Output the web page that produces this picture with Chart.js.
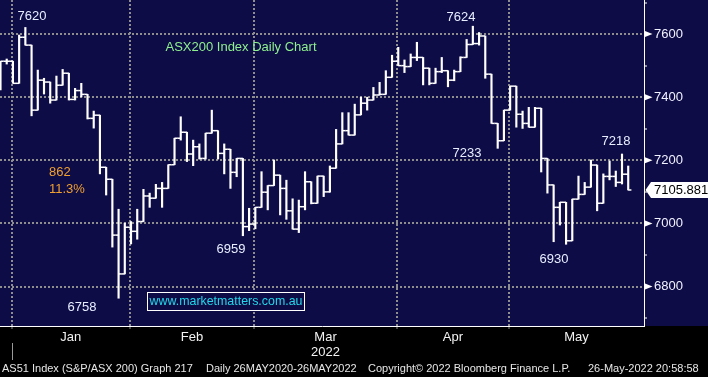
<!DOCTYPE html>
<html>
<head>
<meta charset="utf-8">
<script src="https://cdn.jsdelivr.net/npm/chart.js@4.4.1/dist/chart.umd.min.js"></script>
<style>
  html, body { margin: 0; padding: 0; background: #000; }
</style>
</head>
<body>
<canvas id="asx_chart" width="708" height="377"></canvas>
<script>
// ASX200 daily bars, 30 Dec 2021 .. 26 May 2022 (bar index = trading day)
let opens = [
  7430, 7514, 7514, 7444, 7590, 7565, 7359, 7454, 7448, 7391,
  7438, 7476, 7393, 7421, 7409, 7333, 7343, 7178, 7140, 6963,
  6840, 6988, 6975, 7006, 7087, 7080, 7111, 7111, 7186, 7270,
  7289, 7220, 7243, 7206, 7286, 7294, 7222, 7235, 7162, 7206,
  6990, 6998, 7051, 7099, 7120, 7153, 7111, 7040, 6982, 7053,
  7132, 7064, 7150, 7100, 7175, 7252, 7294, 7280, 7344, 7381,
  7391, 7407, 7409, 7463, 7514, 7500, 7497, 7526, 7526, 7492,
  7444, 7481, 7484, 7454, 7481, 7526, 7567, 7570, 7594, 7473,
  7317, 7262, 7359, 7435, 7346, 7317, 7305, 7365, 7206, 7122,
  7051, 7067, 6945, 7077, 7092, 7115, 7185, 7064, 7149, 7149,
  7130, 7156
];
let highs = [
  7514, 7521, 7514, 7597, 7621, 7565, 7486, 7460, 7448, 7467,
  7488, 7476, 7428, 7444, 7409, 7356, 7343, 7178, 7140, 7045,
  7001, 7006, 7045, 7108, 7096, 7124, 7130, 7186, 7270, 7338,
  7289, 7264, 7252, 7286, 7359, 7294, 7252, 7235, 7206, 7206,
  7048, 7051, 7164, 7120, 7201, 7153, 7137, 7078, 7074, 7164,
  7132, 7150, 7150, 7182, 7298, 7351, 7351, 7378, 7400, 7400,
  7431, 7447, 7484, 7533, 7558, 7518, 7537, 7574, 7526, 7492,
  7492, 7526, 7484, 7486, 7528, 7583, 7625, 7605, 7594, 7473,
  7317, 7359, 7435, 7435, 7356, 7368, 7368, 7365, 7206, 7122,
  7067, 7067, 7077, 7150, 7130, 7201, 7185, 7157, 7198, 7166,
  7220, 7182
];
let lows = [
  7423, 7505, 7444, 7444, 7565, 7341, 7359, 7410, 7381, 7391,
  7438, 7391, 7391, 7401, 7331, 7302, 7157, 7090, 6925, 6763,
  6840, 6935, 6950, 7006, 7051, 7080, 7051, 7111, 7186, 7264,
  7196, 7183, 7204, 7204, 7286, 7204, 7157, 7111, 7148, 6961,
  6977, 6983, 7051, 7043, 7120, 7027, 7013, 6982, 6971, 7043,
  7062, 7064, 7085, 7099, 7175, 7252, 7280, 7280, 7344, 7359,
  7391, 7407, 7409, 7463, 7500, 7478, 7497, 7516, 7439, 7439,
  7444, 7478, 7433, 7452, 7481, 7526, 7567, 7565, 7460, 7317,
  7238, 7262, 7359, 7305, 7301, 7305, 7305, 7163, 7096, 6942,
  6995, 6934, 6945, 7077, 7092, 7115, 7040, 7064, 7138, 7117,
  7125, 7106
];
let closes = [
  7514, 7514, 7444, 7590, 7565, 7359, 7454, 7448, 7391, 7438,
  7476, 7393, 7421, 7409, 7333, 7343, 7178, 7140, 6963, 6840,
  6988, 6975, 7006, 7087, 7080, 7111, 7111, 7186, 7270, 7289,
  7220, 7243, 7206, 7286, 7294, 7222, 7235, 7162, 7206, 6990,
  6998, 7051, 7099, 7120, 7153, 7111, 7040, 6982, 7053, 7132,
  7064, 7150, 7100, 7175, 7252, 7294, 7280, 7344, 7381, 7391,
  7407, 7409, 7463, 7514, 7500, 7497, 7526, 7526, 7492, 7444,
  7481, 7484, 7454, 7481, 7526, 7567, 7570, 7594, 7473, 7317,
  7262, 7359, 7435, 7346, 7317, 7305, 7365, 7206, 7122, 7051,
  7067, 6945, 7077, 7092, 7115, 7185, 7064, 7149, 7149, 7130,
  7156, 7106
];

let monthLabels = ['Jan', 'Feb', ['Mar', '2022'], 'Apr', 'May'];
let monthStart = [2, 21, 41, 64, 82];   // index of first bar of each month
let yTickValues = [6700, 6800, 6900, 7000, 7100, 7200, 7300, 7400, 7500, 7600, 7700];
let lastPrice = 7105.881;

let xMin = -0.08, xMax = 103.54;
let navy = '#0e0c46';
let dotGrey = '#8e8e8e';
let fontFamily = "'Liberation Sans', Arial, sans-serif";

// gridline ticks at month starts, label ticks halfway between them
let xTicks = [];
monthStart.forEach(function(s, k) {
    let a = s - 0.2;
    let b = k < monthStart.length - 1 ? monthStart[k + 1] - 0.2 : xMax;
    xTicks.push(a, (a + b) / 2);
});

let notes = [
    {text: '7620', x: 32, y: 16, color: '#e8eeff', align: 'center'},
    {text: 'ASX200 Index Daily Chart', x: 241, y: 47, color: '#8ef08e', align: 'center'},
    {text: '862', x: 49, y: 172, color: '#f0a030', align: 'left'},
    {text: '11.3%', x: 49, y: 189, color: '#f0a030', align: 'left'},
    {text: '6758', x: 82, y: 307, color: '#e8eeff', align: 'center'},
    {text: '6959', x: 231, y: 249, color: '#e8eeff', align: 'center'},
    {text: '7624', x: 461, y: 17, color: '#e8eeff', align: 'center'},
    {text: '7233', x: 467, y: 153, color: '#e8eeff', align: 'center'},
    {text: '6930', x: 554, y: 259, color: '#e8eeff', align: 'center'},
    {text: '7218', x: 616, y: 141, color: '#e8eeff', align: 'center'}
];

let footer = [
    {text: 'AS51 Index (S&P/ASX 200) Graph 217', x: 2},
    {text: 'Daily 26MAY2020-26MAY2022', x: 206},
    {text: 'Copyright\u00a9 2022 Bloomberg Finance L.P.', x: 368},
    {text: '26-May-2022 20:58:58', x: 588}
];

function noPadding(scale) {
    scale.paddingLeft = 0;
    scale.paddingRight = 0;
    scale.paddingTop = 0;
    scale.paddingBottom = 0;
}

let bbgPlugin = {
    id: 'bbg',
    beforeDraw: function(chart) {
        let ctx = chart.ctx;
        ctx.save();
        ctx.fillStyle = '#000';
        ctx.fillRect(0, 0, chart.width, chart.height);
        ctx.fillStyle = navy;
        ctx.fillRect(0, 0, chart.width, chart.chartArea.bottom);
        ctx.restore();
    },
    afterDatasetsDraw: function(chart) {
        let ctx = chart.ctx;
        ctx.save();
        ctx.font = '13px ' + fontFamily;
        ctx.textBaseline = 'middle';
        notes.forEach(function(n) {
            ctx.fillStyle = n.color;
            ctx.textAlign = n.align;
            ctx.fillText(n.text, n.x, n.y);
        });
        // web address box
        ctx.strokeStyle = '#ffffff';
        ctx.lineWidth = 1;
        ctx.fillStyle = navy;
        ctx.fillRect(147.5, 292.5, 157, 18);
        ctx.strokeRect(147.5, 292.5, 157, 18);
        ctx.fillStyle = '#22d8ea';
        ctx.textAlign = 'center';
        ctx.font = '12.4px ' + fontFamily;
        ctx.fillText('www.marketmatters.com.au', 226, 302);
        ctx.restore();
    },
    afterDraw: function(chart) {
        let ctx = chart.ctx;
        let ys = chart.scales.y;
        let xs = chart.scales.x;
        let right = chart.chartArea.right;
        ctx.save();
        // arrow ticks at labelled levels
        ctx.fillStyle = '#ffffff';
        yTickValues.forEach(function(v) {
            if (v % 200 !== 0) return;
            let py = ys.getPixelForValue(v);
            ctx.beginPath();
            ctx.moveTo(right + 1, py - 3);
            ctx.lineTo(right + 8.5, py);
            ctx.lineTo(right + 1, py + 3);
            ctx.closePath();
            ctx.fill();
        });
        // last price tag
        let py = ys.getPixelForValue(lastPrice);
        ctx.beginPath();
        ctx.moveTo(right + 1.5, py);
        ctx.lineTo(right + 7, py - 8);
        ctx.lineTo(chart.width, py - 8);
        ctx.lineTo(chart.width, py + 8);
        ctx.lineTo(right + 7, py + 8);
        ctx.closePath();
        ctx.fillStyle = '#ffffff';
        ctx.fill();
        ctx.fillStyle = '#000000';
        ctx.font = '13px ' + fontFamily;
        ctx.textAlign = 'left';
        ctx.textBaseline = 'middle';
        ctx.fillText(lastPrice.toFixed(3), right + 10, py + 0.5);
        // year separator
        let px = Math.round(xs.getPixelForValue(monthStart[0] - 0.2)) + 0.5;
        ctx.strokeStyle = '#9a9a9a';
        ctx.lineWidth = 1;
        ctx.beginPath();
        ctx.moveTo(px, 343);
        ctx.lineTo(px, 360);
        ctx.stroke();
        // footer line
        ctx.fillStyle = '#e6e6e6';
        ctx.font = '11px ' + fontFamily;
        footer.forEach(function(f) {
            ctx.fillText(f.text, f.x, 369);
        });
        ctx.restore();
    }
};

let asxChart = new Chart(document.getElementById('asx_chart'), {
    type: 'bar',
    data: {
        datasets: [
            {
                type: 'bar',
                label: 'High-Low',
                data: highs.map(function(h, i) { return {x: i, y: [lows[i], h]}; }),
                backgroundColor: '#ffffff',
                borderWidth: 0,
                barThickness: 1.5
            },
            {
                type: 'scatter',
                label: 'Open',
                data: opens.map(function(o, i) { return {x: i, y: o}; }),
                pointStyle: 'dash',
                pointRotation: 180,
                pointRadius: 3.2,
                pointBorderColor: '#ffffff',
                pointBorderWidth: 1.5
            },
            {
                type: 'scatter',
                label: 'Close',
                data: closes.map(function(c, i) { return {x: i, y: c}; }),
                pointStyle: 'dash',
                pointRotation: 0,
                pointRadius: 3.2,
                pointBorderColor: '#ffffff',
                pointBorderWidth: 1.5
            }
        ]
    },
    options: {
        responsive: false,
        devicePixelRatio: 1,
        animation: false,
        events: [],
        layout: {padding: 0, autoPadding: false},
        plugins: {
            legend: {display: false},
            tooltip: {enabled: false}
        },
        scales: {
            x: {
                type: 'linear',
                min: xMin,
                max: xMax,
                offset: false,
                afterBuildTicks: function(scale) {
                    scale.ticks = xTicks.map(function(v) { return {value: v}; });
                },
                afterFit: function(scale) { scale.height = 51; noPadding(scale); },
                grid: {
                    offset: false,
                    color: function(c) { return c.index % 2 === 0 ? dotGrey : 'transparent'; },
                    lineWidth: 2,
                    tickLength: 3,
                    tickWidth: 1,
                    tickColor: function(c) { return c.index % 2 === 0 ? '#8a8a8a' : 'transparent'; }
                },
                border: {color: '#ffffff', width: 1, dash: [2, 2]},
                ticks: {
                    autoSkip: false,
                    maxRotation: 0,
                    minRotation: 0,
                    padding: 0,
                    color: '#f2f2f2',
                    font: {family: fontFamily, size: 13, lineHeight: 1.22},
                    callback: function(v, i) { return i % 2 ? monthLabels[(i - 1) / 2] : ''; }
                }
            },
            y: {
                position: 'right',
                min: 6675,
                max: 7708,
                beginAtZero: false,
                afterBuildTicks: function(scale) {
                    scale.ticks = yTickValues.map(function(v) { return {value: v}; });
                },
                afterFit: function(scale) { scale.width = 64; noPadding(scale); },
                grid: {
                    color: function(c) { return c.tick.value % 200 === 0 ? dotGrey : 'transparent'; },
                    lineWidth: 2,
                    tickLength: 3,
                    tickWidth: 1,
                    tickColor: function(c) { return c.tick.value % 200 === 0 ? 'transparent' : '#ffffff'; }
                },
                border: {color: '#ffffff', width: 1, dash: [2, 2]},
                ticks: {
                    padding: 7,
                    color: '#f0f2ff',
                    font: {family: fontFamily, size: 13},
                    callback: function(v) { return v % 200 === 0 ? String(v) : ''; }
                }
            }
        }
    },
    plugins: [bbgPlugin]
});
</script>
</body>
</html>
